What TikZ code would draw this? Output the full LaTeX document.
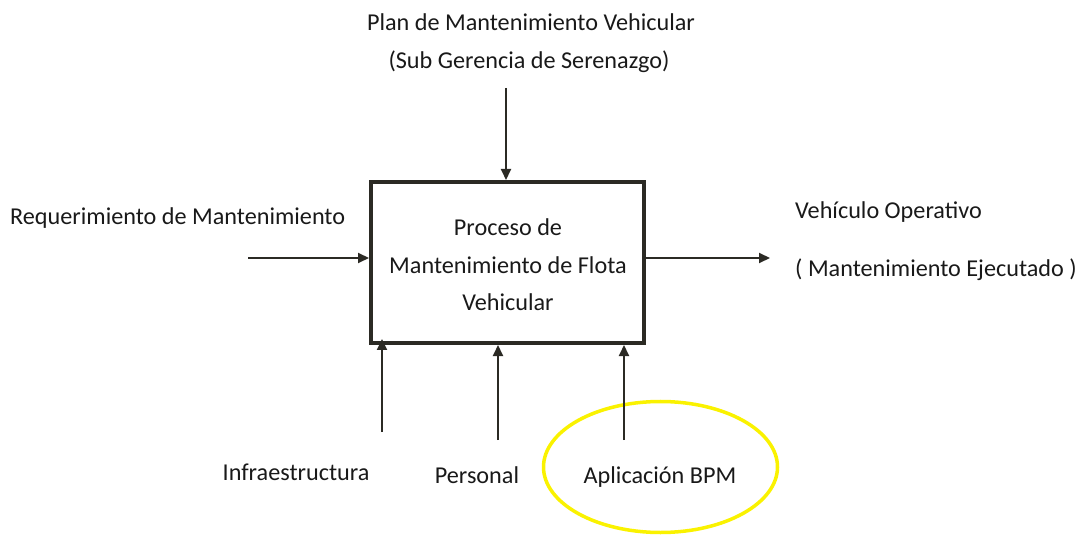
\documentclass[tikz,border=0pt]{standalone}
\usepackage{fontspec}
\setmainfont{Carlito}
\usetikzlibrary{arrows.meta,shapes.geometric}
\definecolor{ln}{HTML}{2B2A24}
\definecolor{hl}{HTML}{FAF200}
\begin{document}
\begin{tikzpicture}[x=1bp,y=-1bp,
  lbl/.style={inner sep=0pt,font=\fontsize{24.2bp}{29bp}\selectfont,text=black!90},
  arr/.style={draw=ln,line width=2bp,-{Triangle[length=11bp,width=10bp]}},
  procbox/.style={draw=ln,line width=4bp,minimum width=273bp,minimum height=161bp,inner sep=0pt}]
\useasboundingbox (0,0) rectangle (1088,538);
\node[procbox] (box) at (507.5,262.5) {};
\node[lbl] (t1) at (508,227) {Proceso de};
\node[lbl] (t2) at (508,265) {Mantenimiento de Flota};
\node[lbl] (t3) at (508,302) {Vehicular};
\node[lbl] (ctl1) at (531,22) {Plan de Mantenimiento Vehicular};
\node[lbl] (ctl2) at (529,62) {(Sub Gerencia de Serenazgo)};
\node[lbl,anchor=west] (inp) at (10,218) {Requerimiento de Mantenimiento};
\node[lbl,anchor=west] (out1) at (795,212) {Vehículo Operativo};
\node[lbl,anchor=west] (out2) at (795,270) {( Mantenimiento Ejecutado )};
\node[lbl] (m1) at (296,472) {Infraestructura};
\node[lbl] (m2) at (477,475) {Personal};
\node[lbl] (m3) at (660,477) {Aplicación BPM};
\node[draw=hl,line width=3.5bp,ellipse,minimum width=234bp,minimum height=131bp,inner sep=0pt] (hlell) at (660.5,467) {};
\coordinate (ctlS) at (506,88);
\coordinate (inS) at (248,258);
\coordinate (outE) at (770,258);
\coordinate (m1S) at (382,432);
\coordinate (m2S) at (498,440);
\coordinate (m3S) at (624,440);
\draw[arr] (ctlS) -- (ctlS |- box.north);
\draw[arr] (inS) -- (inS -| box.west);
\draw[arr] (outE -| box.east) -- (outE);
\draw[arr] (m1S) -- (382,339);
\draw[arr] (m2S) -- (m2S |- box.south);
\draw[arr] (m3S) -- (m3S |- box.south);
\end{tikzpicture}
\end{document}
